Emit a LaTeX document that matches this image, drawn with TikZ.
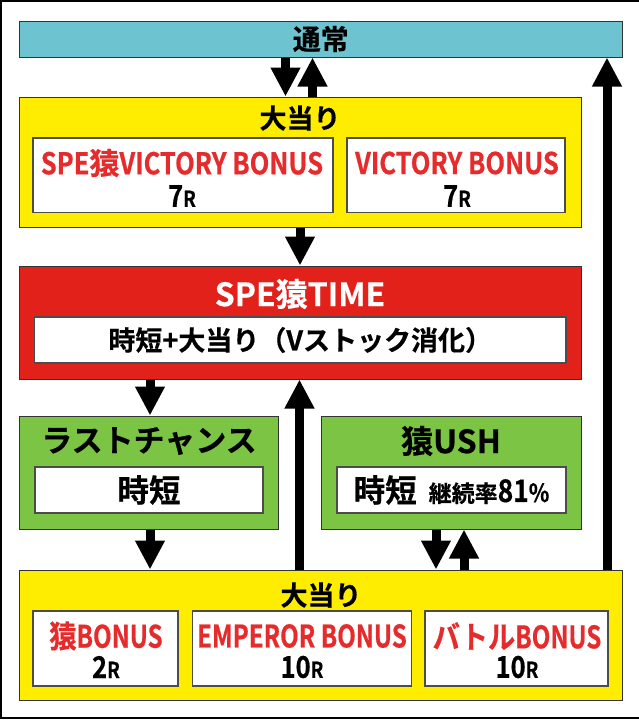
\documentclass[tikz,border=0pt]{standalone}
\usepackage{fontspec}
\setmainfont{Noto Sans CJK JP Bold}[FakeBold=0.5]
\newfontfamily\jp{Noto Sans CJK JP Bold}[FakeBold=0.5]
\newfontfamily\jpc{Noto Sans CJK JP Bold}[FakeBold=0.5,FakeStretch=0.88]
\newfontfamily\lt{Noto Sans CJK JP Bold}[FakeBold=0.5,FakeStretch=0.85]
\newfontfamily\ltc{Noto Sans CJK JP Bold}[FakeBold=0.5,FakeStretch=0.78]
\usetikzlibrary{arrows.meta}
\newcommand\fs[1]{\fontsize{#1}{#1}\selectfont}
\definecolor{cy}{HTML}{6EC3D0}
\definecolor{yl}{HTML}{FFED00}
\definecolor{rd}{HTML}{E3211B}
\definecolor{gr}{HTML}{7BC444}
\definecolor{rt}{HTML}{E52B2B}
\tikzset{
  box/.style={draw=black!80, line width=1pt, inner sep=0pt, rectangle},
  wbox/.style={box, fill=white, draw=black!70, line width=1.3pt},
  txt/.style={inner sep=0pt},
  ttl/.style={inner sep=0pt, font=\jp\fs{27}},
  red/.style={inner sep=0pt, text=rt},
  arr/.style={line width=9pt, -{Triangle[width=28pt,length=29pt]}},
}
\newcommand\rr[1]{{\lt\fs{30}#1}{\lt\fs{22}R}}
\begin{document}
\begin{tikzpicture}[x=1pt,y=-1pt]
\useasboundingbox (0,0) rectangle (638,721);
\draw[line width=2pt] (640,1) -- (1,1) -- (1,718) -- (640,718);
% top
\node[box, fill=cy, minimum width=602.5pt, minimum height=36pt, font=\jp\fs{28}] (normal) at (320.75,39) {通常};
\node[box, fill=yl, minimum width=561.5pt, minimum height=130pt] (big1) at (300.25,162) {};
\node[ttl] (big1t) at (300,118) {大当り};
\node[wbox, minimum width=300pt, minimum height=74.5pt] (b1L) at (183,175.25) {};
\node[red, font=\lt\fs{30}] (b1La) at (182,163) {SPE{\jp 猿}VICTORY BONUS};
\node[txt] (b1Lb) at (182,196) {\rr{7}};
\node[wbox, minimum width=218pt, minimum height=74.5pt] (b1R) at (456,175.25) {};
\node[red, font=\lt\fs{30}] (b1Ra) at (457,163) {VICTORY BONUS};
\node[txt] (b1Rb) at (457,196) {\rr{7}};
% SPE TIME
\node[box, fill=rd, minimum width=561.5pt, minimum height=113pt] (spe) at (300.25,322.5) {};
\node[inner sep=0pt, text=white, font=\jp\fs{32}] (spet) at (300,294) {SPE猿TIME};
\node[wbox, minimum width=531.5pt, minimum height=46pt, font=\jp\fs{27}] (spei) at (300.25,340) {時短+大当り（Vストック消化）};
% green
\node[box, fill=gr, minimum width=259pt, minimum height=113pt] (last) at (149,472.5) {};
\node[ttl, font=\jp\fs{31}] (lastt) at (149,441) {ラストチャンス};
\node[wbox, minimum width=228pt, minimum height=46pt, font=\jp\fs{31.5}] (lasti) at (149,490) {時短};
\node[box, fill=gr, minimum width=260pt, minimum height=113pt] (rush) at (451,472.5) {};
\node[ttl, font=\jp\fs{32}] (rusht) at (451,441) {猿USH};
\node[wbox, minimum width=229pt, minimum height=46pt] (rushi) at (451.5,490)
  {{\jp\fs{31.5}時短}\hspace{12pt}{\jp\fs{23}継続率}{\lt\fs{31}81}{\lt\fs{25}\%}};
% bottom
\node[box, fill=yl, minimum width=602.5pt, minimum height=130pt] (big2) at (320.75,635) {};
\node[ttl] (big2t) at (321,595) {大当り};
\node[wbox, minimum width=145pt, minimum height=75pt] (c1) at (105.5,648.5) {};
\node[red, font=\ltc\fs{31}] (c1a) at (106,636) {{\jpc 猿}BONUS};
\node[txt] (c1b) at (106,667) {\rr{2}};
\node[wbox, minimum width=219pt, minimum height=75pt] (c2) at (302,648.5) {};
\node[red, font=\ltc\fs{31}] (c2a) at (302,636) {EMPEROR BONUS};
\node[txt] (c2b) at (302,667) {\rr{10}};
\node[wbox, minimum width=183pt, minimum height=75pt] (c3) at (516.5,648.5) {};
\node[red, font=\ltc\fs{31}] (c3a) at (517,636) {{\jpc バトル}BONUS};
\node[txt] (c3b) at (517,667) {\rr{10}};
% arrows
\draw[arr] (285.5,0 |- normal.south) -- (285.5,0 |- big1.north);
\draw[arr] (312.5,0 |- big1.north) -- (312.5,0 |- normal.south);
\draw[arr] (300,0 |- big1.south) -- (300,0 |- spe.north);
\draw[arr] (150,0 |- spe.south) -- (150,0 |- last.north);
\draw[arr] (150,0 |- last.south) -- (150,0 |- big2.north);
\draw[arr] (299.5,0 |- big2.north) -- (299.5,0 |- spe.south);
\draw[arr] (436,0 |- rush.south) -- (436,0 |- big2.north);
\draw[arr] (464,0 |- big2.north) -- (464,0 |- rush.south);
\draw[arr] (607,0 |- big2.north) -- (607,0 |- normal.south);
\end{tikzpicture}
\end{document}
